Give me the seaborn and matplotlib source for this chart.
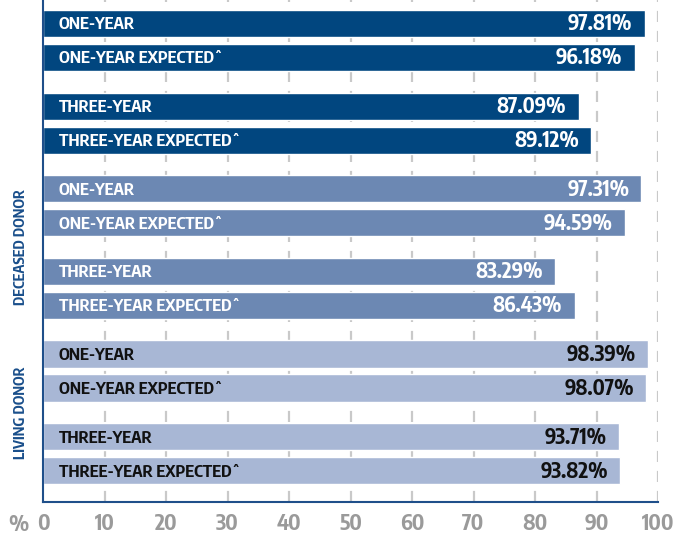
import pandas as pd
import matplotlib.pyplot as plt
import seaborn as sns

# Data
groups = ['Overall'] * 4 + ['Deceased Donor'] * 4 + ['Living Donor'] * 4
names = ['ONE-YEAR', 'ONE-YEAR EXPECTED\u02c6', 'THREE-YEAR', 'THREE-YEAR EXPECTED\u02c6'] * 3
rates = [97.81, 96.18, 87.09, 89.12,
         97.31, 94.59, 83.29, 86.43,
         98.39, 98.07, 93.71, 93.82]
group_labels = {'Deceased Donor': 'DECEASED DONOR', 'Living Donor': 'LIVING DONOR'}
palette = {'Overall': '#01467f', 'Deceased Donor': '#6c88b3', 'Living Donor': '#a8b7d5'}
text_colors = {'Overall': 'white', 'Deceased Donor': 'white', 'Living Donor': '#111111'}
xticks = list(range(0, 101, 10))

# bars come in pairs; extra space between pairs
pair_step = 2.43
pos = [(i // 2) * pair_step + (i % 2) for i in range(len(rates))]

df = pd.DataFrame({'group': groups, 'name': names, 'rate': rates, 'pos': pos})

sns.set_style('white')
plt.rcParams['font.family'] = ['Encode Sans Condensed', 'DejaVu Sans']

fig = plt.figure(figsize=(6.82, 5.37), dpi=100)
ax = fig.add_axes([43 / 682, 35 / 537, 615 / 682, 502 / 537])

for x in xticks[1:]:
    ax.axvline(x, color='#c9c9c9', lw=1.6, ls=(0, (5, 4)), zorder=0)

sns.barplot(data=df, x='rate', y='pos', hue='group', palette=palette, orient='h',
            native_scale=True, dodge=False, width=0.8, legend=False, ax=ax,
            saturation=1, zorder=2)

for _, r in df.iterrows():
    c = text_colors[r['group']]
    ax.text(2.6, r['pos'] + 0.04, r['name'], color=c, fontsize=12, fontweight='bold',
            va='center', ha='left', zorder=3)
    ax.text(r['rate'] - 2.0, r['pos'] + 0.03, f"{r['rate']:.2f}%", color=c, fontsize=15,
            fontweight='bold', va='center', ha='right', zorder=3)

# group labels on the left side
for g, lab in group_labels.items():
    p = df.loc[df['group'] == g, 'pos']
    ax.text(-3.6, (p.min() + p.max()) / 2, lab, rotation=90, color='#1a4f8b', fontsize=10.5,
            fontweight='bold', ha='center', va='center', clip_on=False)

ax.set_xlim(0, 100)
ax.set_ylim(14.07, -0.69)
ax.set_xticks(xticks)
ax.set_xticklabels([str(t) for t in xticks], color='#9a9a9a', fontsize=15.5, fontweight='bold')
ax.tick_params(axis='x', length=0, pad=8)
ax.text(-4.0, -0.046, '%', transform=ax.get_xaxis_transform(), color='#9a9a9a', fontsize=15.5,
        fontweight='bold', ha='center', va='center', clip_on=False)
ax.set_yticks([])
ax.set_xlabel('')
ax.set_ylabel('')

for s in ['top', 'right']:
    ax.spines[s].set_visible(False)
for s in ['left', 'bottom']:
    ax.spines[s].set_color('#1f4f8a')
    ax.spines[s].set_linewidth(1.5)

fig.savefig('out.png', dpi=100)
